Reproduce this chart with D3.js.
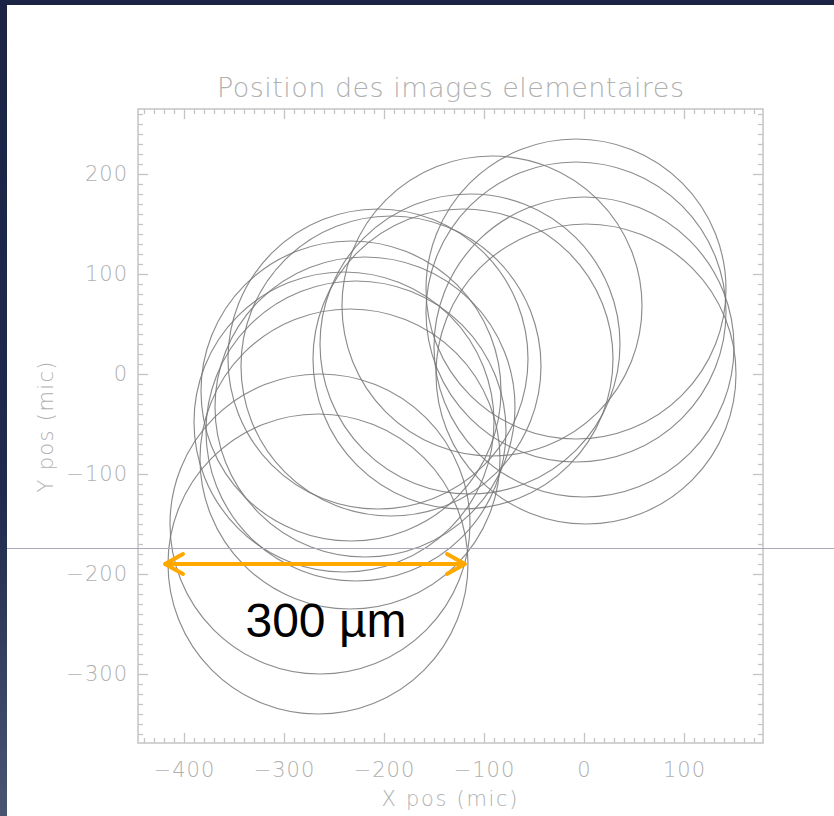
<!DOCTYPE html>
<html>
<head>
<meta charset="utf-8">
<script src="https://cdn.jsdelivr.net/npm/d3@7"></script>
<style>
  html, body { margin: 0; padding: 0; background: #1b2445; }
  svg { display: block; }
  .lbl { font-family: "DejaVu Sans", sans-serif; font-weight: 200; fill: #b0b0b0; }
</style>
</head>
<body>
<svg id="chart" width="834" height="816"></svg>
<script>
// ---- data (microns) ----
const circleX = [-266, -264, -234, -228, -240, -219, -233, -206, -193, -92, -114, -121, -8, -8, 0, 2];
const circleY = [-190, -150, -85, -57, -48, -33, -17, 15, 8, 68, 30, 15, 85, 62, 27, 0];
const circleRadius = 150;
const xMajorTicks = [-400, -300, -200, -100, 0, 100];
const yMajorTicks = [-300, -200, -100, 0, 100, 200];
const minorStep = 10;
const titleText = "Position des images elementaires";
const xTitle = "X pos (mic)";
const yTitle = "Y pos (mic)";
const scaleBarFrom = -420, scaleBarTo = -118, scaleBarY = -190;
const scaleBarLabel = "300 µm";
const xDomain = [-446, 179];
const yDomain = [-369, 265];

const svg = d3.select("#chart");
const W = 834, H = 816;
const frame = { left: 138, right: 763, top: 109, bottom: 743 };

// background panel
const defs = svg.append("defs");
const grad = defs.append("linearGradient").attr("id", "edge").attr("x1", 0).attr("y1", 0).attr("x2", 0).attr("y2", 1);
grad.append("stop").attr("offset", "0%").attr("stop-color", "#1b2445");
grad.append("stop").attr("offset", "60%").attr("stop-color", "#1f2a4c");
grad.append("stop").attr("offset", "100%").attr("stop-color", "#4a5572");
svg.append("rect").attr("width", W).attr("height", H).attr("fill", "#1b2445");
svg.append("rect").attr("x", 0).attr("y", 5).attr("width", 7).attr("height", H - 5).attr("fill", "url(#edge)");
svg.append("rect").attr("x", 7).attr("y", 5).attr("width", W - 7).attr("height", H - 5).attr("fill", "#ffffff");

const x = d3.scaleLinear().domain(xDomain).range([frame.left, frame.right]);
const y = d3.scaleLinear().domain(yDomain).range([frame.bottom, frame.top]);

const minorX = d3.range(Math.ceil(xDomain[0] / minorStep) * minorStep, xDomain[1], minorStep).filter(v => !xMajorTicks.includes(v));
const minorY = d3.range(Math.ceil(yDomain[0] / minorStep) * minorStep, yDomain[1], minorStep).filter(v => !yMajorTicks.includes(v));

const axisColor = "#c4c4c4";
function styleAxis(g) {
  g.select(".domain").remove();
  g.selectAll(".tick line").attr("stroke", axisColor).attr("stroke-width", 1.3);
  g.selectAll(".tick text").attr("class", "lbl").attr("font-size", 21).attr("letter-spacing", 1).attr("fill", "#b0b0b0");
}
const fmt = d3.format("d");

// bottom
svg.append("g").attr("transform", `translate(0,${frame.bottom})`)
  .call(d3.axisBottom(x).tickValues(xMajorTicks).tickSize(-10).tickPadding(19).tickFormat(fmt)).call(styleAxis);
svg.append("g").attr("transform", `translate(0,${frame.bottom})`)
  .call(d3.axisBottom(x).tickValues(minorX).tickSize(-5).tickFormat("")).call(styleAxis);
// top
svg.append("g").attr("transform", `translate(0,${frame.top})`)
  .call(d3.axisTop(x).tickValues(xMajorTicks).tickSize(-10).tickFormat("")).call(styleAxis);
svg.append("g").attr("transform", `translate(0,${frame.top})`)
  .call(d3.axisTop(x).tickValues(minorX).tickSize(-5).tickFormat("")).call(styleAxis);
// left
svg.append("g").attr("transform", `translate(${frame.left},0)`)
  .call(d3.axisLeft(y).tickValues(yMajorTicks).tickSize(-10).tickPadding(10).tickFormat(fmt)).call(styleAxis);
svg.append("g").attr("transform", `translate(${frame.left},0)`)
  .call(d3.axisLeft(y).tickValues(minorY).tickSize(-5).tickFormat("")).call(styleAxis);
// right
svg.append("g").attr("transform", `translate(${frame.right},0)`)
  .call(d3.axisRight(y).tickValues(yMajorTicks).tickSize(-10).tickFormat("")).call(styleAxis);
svg.append("g").attr("transform", `translate(${frame.right},0)`)
  .call(d3.axisRight(y).tickValues(minorY).tickSize(-5).tickFormat("")).call(styleAxis);

// frame
svg.append("rect").attr("x", frame.left).attr("y", frame.top)
  .attr("width", frame.right - frame.left).attr("height", frame.bottom - frame.top)
  .attr("fill", "none").attr("stroke", axisColor).attr("stroke-width", 1.5);

// titles
svg.append("text").attr("class", "lbl").attr("x", (frame.left + frame.right) / 2).attr("y", 97)
  .attr("text-anchor", "middle").attr("font-size", 27)
  .attr("textLength", 467).attr("lengthAdjust", "spacing").text(titleText);
svg.append("text").attr("class", "lbl").attr("x", (frame.left + frame.right) / 2 - 1).attr("y", 806)
  .attr("text-anchor", "middle").attr("font-size", 21)
  .attr("textLength", 136).attr("lengthAdjust", "spacing").text(xTitle);
svg.append("text").attr("class", "lbl").attr("transform", `translate(53,${(frame.top + frame.bottom) / 2 + 1}) rotate(-90)`)
  .attr("text-anchor", "middle").attr("font-size", 21)
  .attr("textLength", 131).attr("lengthAdjust", "spacing").text(yTitle);

// circles
const rx = x(circleRadius) - x(0), ry = y(0) - y(circleRadius);
svg.append("g").selectAll("ellipse").data(circleX.map((cx, i) => [cx, circleY[i]])).join("ellipse")
  .attr("cx", d => x(d[0])).attr("cy", d => y(d[1])).attr("rx", rx).attr("ry", ry)
  .attr("fill", "none").attr("stroke", "#777").attr("stroke-opacity", 0.85).attr("stroke-width", 1.15);

// horizontal guide line
svg.append("line").attr("x1", 7).attr("x2", W).attr("y1", 548.5).attr("y2", 548.5)
  .attr("stroke", "#a9a9bb").attr("stroke-width", 1);

// scale bar
const orange = "#FFA800";
const bx1 = x(scaleBarFrom), bx2 = x(scaleBarTo), by = y(scaleBarY);
const sb = svg.append("g").attr("stroke", orange).attr("stroke-width", 4).attr("fill", "none")
  .attr("stroke-linecap", "round").attr("stroke-linejoin", "round");
sb.append("line").attr("x1", bx1 + 2).attr("x2", bx2 - 2).attr("y1", by).attr("y2", by);
sb.append("path").attr("d", `M${bx1 + 19},${by - 10} L${bx1 + 1},${by} L${bx1 + 19},${by + 10}`);
sb.append("path").attr("d", `M${bx2 - 19},${by - 10} L${bx2 - 1},${by} L${bx2 - 19},${by + 10}`);
svg.append("text").attr("x", x(-258)).attr("y", y(-263))
  .attr("text-anchor", "middle").attr("font-family", "Liberation Sans, Arial, sans-serif")
  .attr("font-size", 48).attr("fill", "#000").text(scaleBarLabel);
</script>
</body>
</html>
